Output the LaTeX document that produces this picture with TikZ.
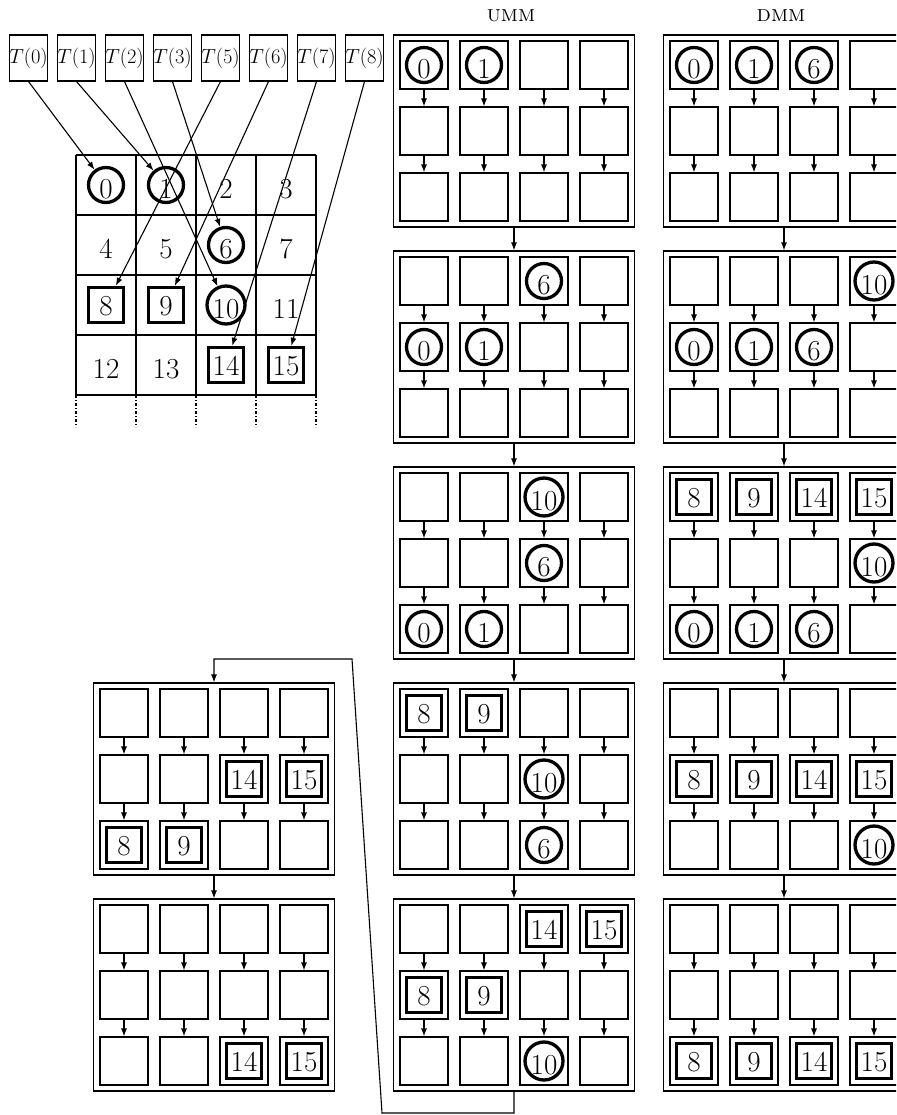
\RequirePackage{fix-cm}
\documentclass[tikz,border=0pt]{standalone}
\usetikzlibrary{arrows.meta}
\newcommand{\numfont}{\fontsize{29}{33}\selectfont}
\tikzset{
  ln/.style={line width=1.1pt},
  arr/.style={ln, -{Latex[length=8pt,width=6pt]}},
  tbox/.style={draw, ln, minimum width=37pt, minimum height=46pt, inner sep=0pt, font=\fontsize{20.5}{23}\selectfont},
  cellbox/.style={draw, ln, minimum size=48pt, inner sep=0pt},
  panelbox/.style={draw, ln, minimum width=241pt, minimum height=192pt, inner sep=0pt},
  circnum/.style={circle, draw, line width=3.3pt, minimum size=35pt, inner sep=0pt, font=\numfont, text height=27pt, text depth=0pt},
  sqnum/.style={rectangle, draw, line width=3.5pt, minimum size=35pt, inner sep=0pt, font=\numfont, text height=21pt, text depth=0pt},
  plainnum/.style={inner sep=0pt, font=\numfont, text height=27pt, text depth=0pt},
  lbl/.style={font=\fontsize{23}{26}\selectfont\scshape, inner sep=0pt},
  ext/.style={ln, dash pattern=on 3pt off 2pt on 1pt off 2pt},
}
\newcommand{\mmpanel}[3]{%
  \node[panelbox] (#1) at (#2,#3+96) {};
  \foreach \rw/\ry in {1/30,2/96,3/162}{%
    \foreach \cl/\colx in {1/-90,2/-30,3/30,4/90}{%
      \node[cellbox] (#1-\rw\cl) at ({#2+\colx},{#3+\ry}) {};
    }
  }
  \foreach \cl in {1,2,3,4}{%
    \draw[arr] (#1-1\cl) -- (#1-2\cl);
    \draw[arr] (#1-2\cl) -- (#1-3\cl);
  }
}
\newcommand{\mmc}[2]{\node[circnum] (#1s) at (#1) {#2};}
\newcommand{\mms}[2]{\node[sqnum] (#1s) at (#1) {#2};}
\begin{document}
\begin{tikzpicture}[x=1pt,y=-1pt]
\useasboundingbox (0,0) rectangle (896,1115);
\clip (0,0) rectangle (896,1115);

% T boxes
\node[tbox] (t0) at (28.5,58) {$T(0)$};
\node[tbox] (t1) at (76.5,58) {$T(1)$};
\node[tbox] (t2) at (124.5,58) {$T(2)$};
\node[tbox] (t3) at (172.5,58) {$T(3)$};
\node[tbox] (t5) at (220.5,58) {$T(5)$};
\node[tbox] (t6) at (268.5,58) {$T(6)$};
\node[tbox] (t7) at (316.5,58) {$T(7)$};
\node[tbox] (t8) at (364.5,58) {$T(8)$};

% grid
\foreach \x in {76,136,196,256,316}{%
  \draw[ln] (\x,155) -- (\x,395);
  \draw[ext] (\x,395) -- (\x,427);
}
\foreach \y in {155,215,275,335,395}{%
  \draw[ln] (76,\y) -- (316,\y);
}
\node[circnum] (g0) at (106,185) {0};
\node[circnum] (g1) at (166,185) {1};
\node[plainnum] (g2) at (226,185) {2};
\node[plainnum] (g3) at (286,185) {3};
\node[plainnum] (g4) at (106,245) {4};
\node[plainnum] (g5) at (166,245) {5};
\node[circnum] (g6) at (226,245) {6};
\node[plainnum] (g7) at (286,245) {7};
\node[sqnum] (g8) at (106,305) {8};
\node[sqnum] (g9) at (166,305) {9};
\node[circnum] (g10) at (226,305) {10};
\node[plainnum] (g11) at (286,305) {11};
\node[plainnum] (g12) at (106,365) {12};
\node[plainnum] (g13) at (166,365) {13};
\node[sqnum] (g14) at (226,365) {14};
\node[sqnum] (g15) at (286,365) {15};

\draw[arr] (t0.south) -- (g0);
\draw[arr] (t1.south) -- (g1);
\draw[arr] (t2.south) -- (g10);
\draw[arr] (t3.south) -- (g6);
\draw[arr] (t5.south) -- (g8);
\draw[arr] (t6.south) -- (g9);
\draw[arr] (t7.south) -- (g14);
\draw[arr] (t8.south) -- (g15);

% labels
\node[lbl] (umm) at (511,16) {umm};
\node[lbl] (dmm) at (781,16) {dmm};

% UMM column
\mmpanel{U1}{514}{35}
\mmpanel{U2}{514}{251}
\mmpanel{U3}{514}{467}
\mmpanel{U4}{514}{683}
\mmpanel{U5}{514}{899}
\mmc{U1-11}{0} \mmc{U1-12}{1}
\mmc{U2-13}{6} \mmc{U2-21}{0} \mmc{U2-22}{1}
\mmc{U3-13}{10} \mmc{U3-23}{6} \mmc{U3-31}{0} \mmc{U3-32}{1}
\mms{U4-11}{8} \mms{U4-12}{9} \mmc{U4-23}{10} \mmc{U4-33}{6}
\mms{U5-13}{14} \mms{U5-14}{15} \mms{U5-21}{8} \mms{U5-22}{9} \mmc{U5-33}{10}
\draw[arr] (U1) -- (U2);
\draw[arr] (U2) -- (U3);
\draw[arr] (U3) -- (U4);
\draw[arr] (U4) -- (U5);

% left continuation
\mmpanel{L1}{214}{683}
\mmpanel{L2}{214}{899}
\mms{L1-23}{14} \mms{L1-24}{15} \mms{L1-31}{8} \mms{L1-32}{9}
\mms{L2-33}{14} \mms{L2-34}{15}
\draw[arr] (L1) -- (L2);
\coordinate (b1) at (514,1113);
\coordinate (b2) at (382,1113);
\coordinate (b3) at (352,659);
\coordinate (b4) at (214,659);
\draw[arr] (U5.south) -- (b1) -- (b2) -- (b3) -- (b4) -- (L1.north);

% DMM column
\mmpanel{D1}{784}{35}
\mmpanel{D2}{784}{251}
\mmpanel{D3}{784}{467}
\mmpanel{D4}{784}{683}
\mmpanel{D5}{784}{899}
\mmc{D1-11}{0} \mmc{D1-12}{1} \mmc{D1-13}{6}
\mmc{D2-14}{10} \mmc{D2-21}{0} \mmc{D2-22}{1} \mmc{D2-23}{6}
\mms{D3-11}{8} \mms{D3-12}{9} \mms{D3-13}{14} \mms{D3-14}{15}
\mmc{D3-24}{10} \mmc{D3-31}{0} \mmc{D3-32}{1} \mmc{D3-33}{6}
\mms{D4-21}{8} \mms{D4-22}{9} \mms{D4-23}{14} \mms{D4-24}{15} \mmc{D4-34}{10}
\mms{D5-31}{8} \mms{D5-32}{9} \mms{D5-33}{14} \mms{D5-34}{15}
\draw[arr] (D1) -- (D2);
\draw[arr] (D2) -- (D3);
\draw[arr] (D3) -- (D4);
\draw[arr] (D4) -- (D5);
\end{tikzpicture}
\end{document}
